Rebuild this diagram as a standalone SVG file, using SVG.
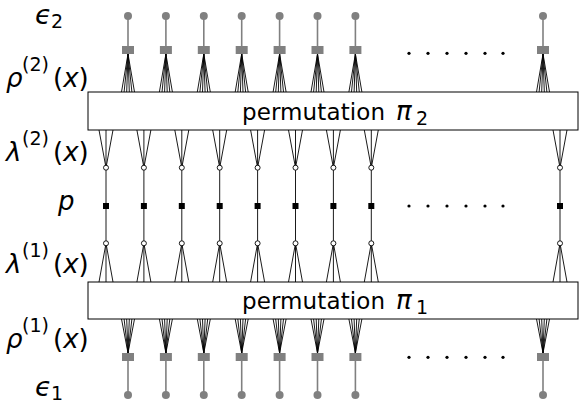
<svg xmlns="http://www.w3.org/2000/svg" xmlns:xlink="http://www.w3.org/1999/xlink" width="579" height="404" viewBox="0 0 579 404">
<style>
text{font-family:"DejaVu Sans",sans-serif;fill:#000}
.i{font-style:italic}
.lab{font-size:26px}
.sup{font-size:19px}
.ln{stroke:#000;stroke-width:0.9;fill:none}
.gl{stroke:#808080;stroke-width:1.6;fill:none}
.gc{fill:#808080}
.wc{fill:#fff;stroke:#000;stroke-width:0.9}
.bs{fill:#000}
.box{fill:#fff;stroke:#000;stroke-width:1}
.dot{fill:#000}
</style>
<defs>
<g id="fanUp" class="ln"><path d="M-6.5 92L0 54M-3.9 92L0 54M-1.3 92L0 54M1.3 92L0 54M3.9 92L0 54M6.5 92L0 54"/></g>
<g id="fanDn" class="ln"><path d="M-6.5 319L0 353M-3.9 319L0 353M-1.3 319L0 353M1.3 319L0 353M3.9 319L0 353M6.5 319L0 353"/></g>
<g id="stemT" class="gl"><path d="M0 16V50"/></g>
<g id="stemB" class="gl"><path d="M0 357V395"/></g>
<g id="midV" class="ln"><path d="M-7 130L0 167.7L7 130M0 130V282M-7 282L0 243.3L7 282"/></g>
<g id="chkT"><rect class="gc" x="-6" y="46" width="12" height="8"/><circle class="gc" cx="0" cy="16" r="4"/></g>
<g id="chkB"><rect class="gc" x="-6" y="353" width="12" height="8"/><circle class="gc" cx="0" cy="395" r="4"/></g>
<g id="varN"><circle class="wc" cx="0" cy="167.7" r="2.5"/><rect class="bs" x="-3" y="203" width="6" height="6"/><circle class="wc" cx="0" cy="243.3" r="2.5"/></g>
</defs>
<g id="connectors">
<use xlink:href="#fanUp" x="128"/><use xlink:href="#fanUp" x="165.9"/><use xlink:href="#fanUp" x="203.8"/><use xlink:href="#fanUp" x="241.7"/><use xlink:href="#fanUp" x="279.6"/><use xlink:href="#fanUp" x="317.5"/><use xlink:href="#fanUp" x="355.4"/><use xlink:href="#fanUp" x="543"/>
<use xlink:href="#fanDn" x="128"/><use xlink:href="#fanDn" x="165.9"/><use xlink:href="#fanDn" x="203.8"/><use xlink:href="#fanDn" x="241.7"/><use xlink:href="#fanDn" x="279.6"/><use xlink:href="#fanDn" x="317.5"/><use xlink:href="#fanDn" x="355.4"/><use xlink:href="#fanDn" x="543"/>
<use xlink:href="#stemT" x="128"/><use xlink:href="#stemT" x="165.9"/><use xlink:href="#stemT" x="203.8"/><use xlink:href="#stemT" x="241.7"/><use xlink:href="#stemT" x="279.6"/><use xlink:href="#stemT" x="317.5"/><use xlink:href="#stemT" x="355.4"/><use xlink:href="#stemT" x="543"/>
<use xlink:href="#stemB" x="128"/><use xlink:href="#stemB" x="165.9"/><use xlink:href="#stemB" x="203.8"/><use xlink:href="#stemB" x="241.7"/><use xlink:href="#stemB" x="279.6"/><use xlink:href="#stemB" x="317.5"/><use xlink:href="#stemB" x="355.4"/><use xlink:href="#stemB" x="543"/>
<use xlink:href="#midV" x="106"/><use xlink:href="#midV" x="143.9"/><use xlink:href="#midV" x="181.8"/><use xlink:href="#midV" x="219.7"/><use xlink:href="#midV" x="257.6"/><use xlink:href="#midV" x="295.5"/><use xlink:href="#midV" x="333.4"/><use xlink:href="#midV" x="371.3"/><use xlink:href="#midV" x="560"/>
</g>
<g id="perm2"><rect class="box" x="88" y="92" width="490" height="38"/>
<text x="242" y="120" font-size="23" textLength="143" lengthAdjust="spacing">permutation</text>
<text x="396" y="120" font-size="26" class="i">π</text><text x="416" y="125" font-size="19">2</text></g>
<g id="perm1"><rect class="box" x="88" y="282" width="490" height="37"/>
<text x="242" y="309" font-size="23" textLength="143" lengthAdjust="spacing">permutation</text>
<text x="396" y="309" font-size="26" class="i">π</text><text x="416" y="314" font-size="19">1</text></g>
<g id="checks-top"><use xlink:href="#chkT" x="128"/><use xlink:href="#chkT" x="165.9"/><use xlink:href="#chkT" x="203.8"/><use xlink:href="#chkT" x="241.7"/><use xlink:href="#chkT" x="279.6"/><use xlink:href="#chkT" x="317.5"/><use xlink:href="#chkT" x="355.4"/><use xlink:href="#chkT" x="543"/></g>
<g id="checks-bottom"><use xlink:href="#chkB" x="128"/><use xlink:href="#chkB" x="165.9"/><use xlink:href="#chkB" x="203.8"/><use xlink:href="#chkB" x="241.7"/><use xlink:href="#chkB" x="279.6"/><use xlink:href="#chkB" x="317.5"/><use xlink:href="#chkB" x="355.4"/><use xlink:href="#chkB" x="543"/></g>
<g id="variables"><use xlink:href="#varN" x="106"/><use xlink:href="#varN" x="143.9"/><use xlink:href="#varN" x="181.8"/><use xlink:href="#varN" x="219.7"/><use xlink:href="#varN" x="257.6"/><use xlink:href="#varN" x="295.5"/><use xlink:href="#varN" x="333.4"/><use xlink:href="#varN" x="371.3"/><use xlink:href="#varN" x="560"/></g>
<g id="ellipses">
<circle class="dot" cx="409" cy="53.3" r="1.6"/><circle class="dot" cx="428" cy="53.3" r="1.6"/><circle class="dot" cx="447" cy="53.3" r="1.6"/><circle class="dot" cx="466" cy="53.3" r="1.6"/><circle class="dot" cx="485" cy="53.3" r="1.6"/><circle class="dot" cx="503" cy="53.3" r="1.6"/>
<circle class="dot" cx="409" cy="206" r="1.6"/><circle class="dot" cx="428" cy="206" r="1.6"/><circle class="dot" cx="447" cy="206" r="1.6"/><circle class="dot" cx="466" cy="206" r="1.6"/><circle class="dot" cx="485" cy="206" r="1.6"/><circle class="dot" cx="503" cy="206" r="1.6"/>
<circle class="dot" cx="409" cy="357.3" r="1.6"/><circle class="dot" cx="428" cy="357.3" r="1.6"/><circle class="dot" cx="447" cy="357.3" r="1.6"/><circle class="dot" cx="466" cy="357.3" r="1.6"/><circle class="dot" cx="485" cy="357.3" r="1.6"/><circle class="dot" cx="503" cy="357.3" r="1.6"/>
</g>
<g id="labels">
<text class="lab"><tspan class="i" x="35" y="24" font-size="27">ϵ</tspan><tspan class="sup" x="51" y="28">2</tspan></text>
<text class="lab"><tspan class="i" x="6" y="87">ρ</tspan><tspan class="sup" x="22" y="71">(2)</tspan><tspan x="53" y="87">(</tspan><tspan class="i">x</tspan><tspan>)</tspan></text>
<text class="lab"><tspan class="i" x="6" y="161">λ</tspan><tspan class="sup" x="22" y="145">(2)</tspan><tspan x="53" y="161">(</tspan><tspan class="i">x</tspan><tspan>)</tspan></text>
<text class="lab"><tspan class="i" x="58" y="210">p</tspan></text>
<text class="lab"><tspan class="i" x="6" y="273">λ</tspan><tspan class="sup" x="22" y="257">(1)</tspan><tspan x="53" y="273">(</tspan><tspan class="i">x</tspan><tspan>)</tspan></text>
<text class="lab"><tspan class="i" x="6" y="348">ρ</tspan><tspan class="sup" x="22" y="332">(1)</tspan><tspan x="53" y="348">(</tspan><tspan class="i">x</tspan><tspan>)</tspan></text>
<text class="lab"><tspan class="i" x="35" y="396" font-size="27">ϵ</tspan><tspan class="sup" x="51" y="400">1</tspan></text>
</g>
</svg>
